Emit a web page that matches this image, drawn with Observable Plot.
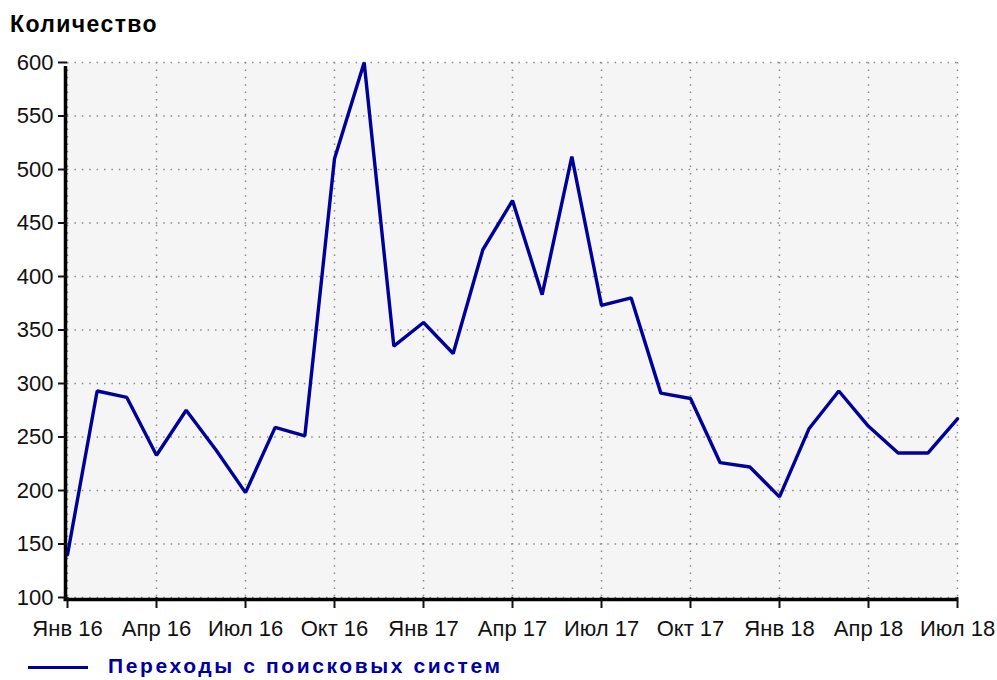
<!DOCTYPE html>
<html>
<head>
<meta charset="utf-8">
<script src="https://cdn.jsdelivr.net/npm/d3@7"></script>
<script src="https://cdn.jsdelivr.net/npm/@observablehq/plot@0.6"></script>
<style>
  body { margin: 0; background: #fff; font-family: "Liberation Sans", Arial, sans-serif; }
  #head { position: relative; height: 45px; }
  #head span { position: absolute; left: 10px; top: 13px; font-size: 23px; line-height: 1; font-weight: bold; color: #000; letter-spacing: 1.4px; }
  #legend { position: relative; height: 35px; }
  #legend .sw { position: absolute; left: 28px; top: 21px; width: 60px; height: 3px; background: #000099; }
  #legend .tx { position: absolute; left: 108px; top: 10px; font-size: 21px; line-height: 1; font-weight: bold; color: #0000a0; letter-spacing: 2.6px; }
</style>
</head>
<body>
<div id="head"><span>Количество</span></div>
<div id="chart"></div>
<div id="legend"><div class="sw"></div><span class="tx">Переходы с поисковых систем</span></div>
<script>
const seriesName = "Переходы с поисковых систем";
const yLabel = "Количество";
const tickLabels = ["Янв 16","Апр 16","Июл 16","Окт 16","Янв 17","Апр 17","Июл 17","Окт 17","Янв 18","Апр 18","Июл 18"];
const yTicks = [100,150,200,250,300,350,400,450,500,550,600];
// monthly values Jan 2016 .. Jul 2018
const values = [140,293,287,233,275,238,198,259,251,510,600,335,357,328,425,471,383,512,373,380,291,286,226,222,194,258,293,260,235,235,267];

const data = values.map((v, i) => ({i, v}));
const xTicks = tickLabels.map((_, k) => k * 3);
const gridStyle = {stroke: "#8a8a8a", strokeOpacity: 1, strokeWidth: 1.5, strokeDasharray: "1.5,5.9"};

const chart = Plot.plot({
  width: 997,
  height: 600,
  marginTop: 17,
  marginBottom: 48,
  marginLeft: 67,
  marginRight: 40,
  style: {fontFamily: "'Liberation Sans', Arial, sans-serif", fontSize: "22px", color: "#111", background: "white", overflow: "visible"},
  x: {type: "linear", domain: [0, 30]},
  y: {domain: [100, 600]},
  marks: [
    Plot.frame({fill: "#f5f5f5", stroke: null}),
    Plot.gridY(yTicks, gridStyle),
    Plot.gridX(xTicks, gridStyle),
    Plot.line(data, {x: "i", y: "v", stroke: "#000099", strokeWidth: 3.4, strokeLinejoin: "miter"}),
    Plot.ruleX([0], {stroke: "#000", strokeWidth: 3.5, dx: -2, y1: 100, y2: 600, insetBottom: -4}),
    Plot.ruleY([100], {stroke: "#000", strokeWidth: 3.5, dy: 2, insetLeft: -3.5}),
    Plot.axisY(yTicks, {tickSize: 9, tickPadding: 5, strokeWidth: 2, label: null, fontSize: 22}),
    Plot.axisX(xTicks, {tickSize: 11, tickPadding: 12, strokeWidth: 2, label: null, fontSize: 22, tickFormat: d => tickLabels[d / 3]})
  ]
});
document.getElementById("chart").appendChild(chart);
</script>
</body>
</html>
